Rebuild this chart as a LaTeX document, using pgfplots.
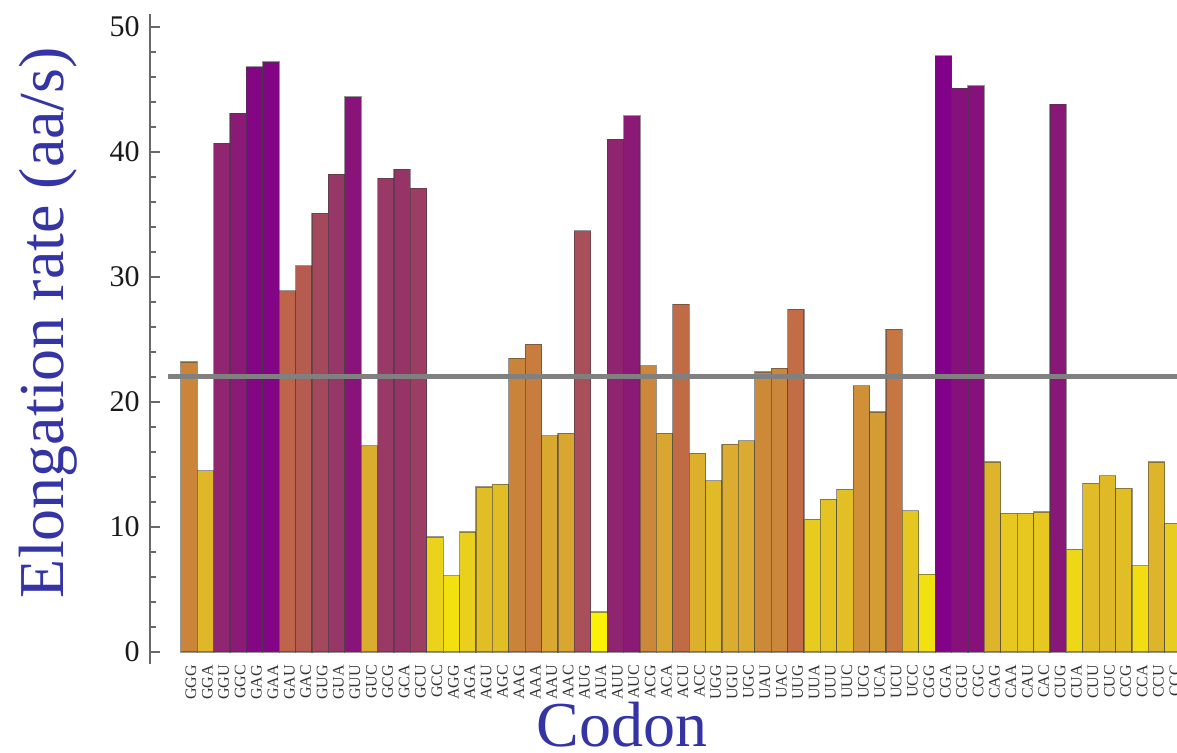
\documentclass[border=0pt]{standalone}
\usepackage{fontspec}
\setmainfont{Liberation Serif}
\usepackage{pgfplots}
\pgfplotsset{compat=1.18}

\definecolor{labelblue}{RGB}{52,52,165}
\definecolor{meangray}{RGB}{128,128,128}
\definecolor{axisgray}{RGB}{105,105,105}

% one bar per codon, coloured by its own rate through the colormap (0..50 -> 0..1000)
\pgfplotsset{
  codonbar/.style={ybar, bar width=1, bar shift=0pt, fill, draw=black!75, draw opacity=0.55, line width=0.6pt},
}
\newcommand\cbar[2]{%
  \edef\tmp{\noexpand\addplot[color of colormap={\fpeval{20*#2}}, codonbar] coordinates {(#1,#2)};}%
  \tmp}

\begin{document}
\begin{tikzpicture}
\useasboundingbox (-75pt,-44.25pt) rectangle (513.5pt,332.25pt);
\begin{axis}[
  at={(0,0)}, anchor=south west,
  x=8.2pt, y=6.25pt,
  xmin=-1.372, xmax=63, ymin=-1, ymax=51,
  axis y line*=left, axis x line*=bottom,
  x axis line style={draw=none},
  y axis line style={draw=axisgray, line width=0.75pt},
  clip=false,
  colormap={rate}{
    rgb255(0)=(255,250,0) rgb255(3)=(250,242,5) rgb255(6)=(243,226,15)
    rgb255(10)=(233,206,30) rgb255(14)=(224,186,40) rgb255(17)=(218,170,48)
    rgb255(22)=(205,140,56) rgb255(28)=(193,106,70) rgb255(31)=(182,90,80)
    rgb255(34)=(168,78,90) rgb255(38)=(152,56,102) rgb255(42)=(140,30,115)
    rgb255(45)=(135,18,123) rgb255(48)=(128,0,138) rgb255(50)=(124,0,140)},
  ytick={0,10,20,30,40,50},
  minor ytick={2,4,6,8,12,14,16,18,22,24,26,28,32,34,36,38,42,44,46,48},
  ytick align=inside, ytick pos=left,
  major tick length=5pt, minor tick length=2.8pt,
  every tick/.style={draw=axisgray, line width=0.6pt},
  yticklabel style={font=\fontsize{15}{15}\selectfont, /pgf/number format/assume math mode=true,
    anchor=east, inner sep=0pt, xshift=-5pt, text=black!90},
  xtick={1,...,61},
  xticklabels={GGG,GGA,GGU,GGC,GAG,GAA,GAU,GAC,GUG,GUA,GUU,GUC,GCG,GCA,GCU,GCC,
    AGG,AGA,AGU,AGC,AAG,AAA,AAU,AAC,AUG,AUA,AUU,AUC,ACG,ACA,ACU,ACC,
    UGG,UGU,UGC,UAU,UAC,UUG,UUA,UUU,UUC,UCG,UCA,UCU,UCC,
    CGG,CGA,CGU,CGC,CAG,CAA,CAU,CAC,CUG,CUA,CUU,CUC,CCG,CCA,CCU,CCC},
  xtick style={draw=none},
  xticklabel style={rotate=90, anchor=east, inner sep=0pt, yshift=-1pt,
    font=\fontsize{8}{8}\selectfont, text=black!80},
  xlabel={Codon},
  xlabel style={at={(axis description cs:0.4471,-0.1254)}, anchor=base,
    font=\fontsize{32}{34}\selectfont, text=labelblue},
  ylabel={Elongation rate (aa/s)},
  ylabel style={at={(axis description cs:-0.0824,0.526)}, anchor=base, rotate=0,
    font=\fontsize{32}{34}\selectfont, text=labelblue},
]
\cbar{1}{23.2}  \cbar{2}{14.5}  \cbar{3}{40.7}  \cbar{4}{43.1}
\cbar{5}{46.8}  \cbar{6}{47.2}  \cbar{7}{28.9}  \cbar{8}{30.9}
\cbar{9}{35.1}  \cbar{10}{38.2} \cbar{11}{44.4} \cbar{12}{16.5}
\cbar{13}{37.9} \cbar{14}{38.6} \cbar{15}{37.1} \cbar{16}{9.2}
\cbar{17}{6.1}  \cbar{18}{9.6}  \cbar{19}{13.2} \cbar{20}{13.4}
\cbar{21}{23.5} \cbar{22}{24.6} \cbar{23}{17.3} \cbar{24}{17.5}
\cbar{25}{33.7} \cbar{26}{3.2}  \cbar{27}{41.0} \cbar{28}{42.9}
\cbar{29}{22.9} \cbar{30}{17.5} \cbar{31}{27.8} \cbar{32}{15.9}
\cbar{33}{13.7} \cbar{34}{16.6} \cbar{35}{16.9} \cbar{36}{22.4}
\cbar{37}{22.7} \cbar{38}{27.4} \cbar{39}{10.6} \cbar{40}{12.2}
\cbar{41}{13.0} \cbar{42}{21.3} \cbar{43}{19.2} \cbar{44}{25.8}
\cbar{45}{11.3} \cbar{46}{6.2}  \cbar{47}{47.7} \cbar{48}{45.1}
\cbar{49}{45.3} \cbar{50}{15.2} \cbar{51}{11.1} \cbar{52}{11.1}
\cbar{53}{11.2} \cbar{54}{43.8} \cbar{55}{8.2}  \cbar{56}{13.5}
\cbar{57}{14.1} \cbar{58}{13.1} \cbar{59}{6.9}  \cbar{60}{15.2}
\cbar{61}{10.3}
% mean elongation rate
\addplot[meangray, line width=2.5pt] coordinates {(-0.27,22) (63,22)};
\end{axis}
\end{tikzpicture}
\end{document}
